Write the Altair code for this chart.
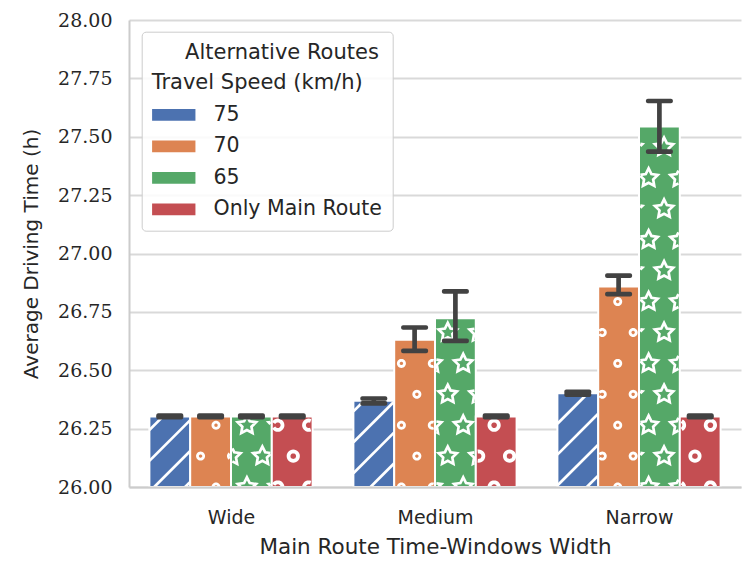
import math
import altair as alt
import pandas as pd

# ---------------- data ----------------
categories = ["Wide", "Medium", "Narrow"]
series = ["75", "70", "65", "Only Main Route"]
colors = ["#4C72B0", "#DD8452", "#55A868", "#C44E52"]

mean_75 = [26.302, 26.369, 26.401]
mean_70 = [26.302, 26.631, 26.859]
mean_65 = [26.302, 26.723, 27.544]
mean_main = [26.302, 26.302, 26.302]

lo_75 = [26.299, 26.358, 26.396]
hi_75 = [26.306, 26.379, 26.407]
lo_70 = [26.299, 26.583, 26.826]
hi_70 = [26.306, 26.683, 26.905]
lo_65 = [26.299, 26.626, 27.436]
hi_65 = [26.306, 26.838, 27.653]
lo_main = [26.299, 26.299, 26.299]
hi_main = [26.306, 26.306, 26.306]

y_ticks = [26.00, 26.25, 26.50, 26.75, 27.00, 27.25, 27.50, 27.75, 28.00]

# ---------------- layout / style constants ----------------
W, H = 612, 467
X_DOM = [-0.5, len(categories) - 0.5]
Y_DOM = [26.0, 28.0]
BAR_W = 0.8 / len(series)
PXX = W / (X_DOM[1] - X_DOM[0])
PXY = H / (Y_DOM[1] - Y_DOM[0])
PERIOD = 30.9                     # hatch period in px
DXG = PERIOD / PXX
DYG = PERIOD / PXY
XA0 = -0.0735                     # hatch grid phase (data units)
TEXT = "#262626"
SANS = "DejaVu Sans"
SERIF = "DejaVu Serif"

means = [mean_75, mean_70, mean_65, mean_main]
los = [lo_75, lo_70, lo_65, lo_main]
his = [hi_75, hi_70, hi_65, hi_main]

rows = []
for gi, cat in enumerate(categories):
    for si, s in enumerate(series):
        c = gi + (si - (len(series) - 1) / 2) * BAR_W
        rows.append(dict(category=cat, series=s, center=c,
                         left=c - BAR_W / 2, right=c + BAR_W / 2,
                         mean=means[si][gi], lo=los[si][gi], hi=his[si][gi],
                         base=Y_DOM[0]))
df = pd.DataFrame(rows)


# ---------------- hatch helpers ----------------
def clip_seg(p0, p1, xmin, xmax, ymin, ymax):
    x0, y0 = p0
    x1, y1 = p1
    dx, dy = x1 - x0, y1 - y0
    t0, t1 = 0.0, 1.0
    for p, q in ((-dx, x0 - xmin), (dx, xmax - x0), (-dy, y0 - ymin), (dy, ymax - y0)):
        if abs(p) < 1e-12:
            if q < 0:
                return None
        else:
            t = q / p
            if p < 0:
                if t > t1:
                    return None
                if t > t0:
                    t0 = t
            else:
                if t < t0:
                    return None
                if t < t1:
                    t1 = t
    if t1 - t0 < 1e-9:
        return None
    return (x0 + t0 * dx, y0 + t0 * dy), (x0 + t1 * dx, y0 + t1 * dy)


def close(a, b):
    return abs(a[0] - b[0]) < 1e-6 and abs(a[1] - b[1]) < 1e-6


def fmt(pts):
    return "M" + "L".join(f"{x:.2f},{y:.2f}" for x, y in pts)


def clipped_path(poly, rect):
    xmin, xmax, ymin, ymax = rect
    if xmin >= xmax or ymin >= ymax:
        return None
    if all(xmin <= x <= xmax and ymin <= y <= ymax for x, y in poly):
        return fmt(poly) + "Z"
    parts, cur = [], None
    n = len(poly)
    for i in range(n):
        seg = clip_seg(poly[i], poly[(i + 1) % n], xmin, xmax, ymin, ymax)
        if seg is None:
            if cur:
                parts.append(cur)
            cur = None
            continue
        a, b = seg
        if cur and close(cur[-1], a):
            cur.append(b)
        else:
            if cur:
                parts.append(cur)
            cur = [a, b]
    if cur:
        parts.append(cur)
    if len(parts) > 1 and close(parts[-1][-1], parts[0][0]):
        parts[0] = parts[-1] + parts[0][1:]
        parts.pop()
    if not parts:
        return None
    return "".join(fmt(p) for p in parts)


def ring(r, n=28):
    return [(r * math.cos(2 * math.pi * i / n), r * math.sin(2 * math.pi * i / n)) for i in range(n)]


def star(R, inner=0.5):
    pts = []
    for i in range(10):
        a = -math.pi / 2 + i * math.pi / 5
        rr = R if i % 2 == 0 else R * inner
        pts.append((rr * math.cos(a), rr * math.sin(a)))
    return pts


hatch_style = {
    "70": (ring(3.1), 3.1, 2.8),
    "65": (star(9.6), 9.6, 2.7),
    "Only Main Route": (ring(4.7), 4.7, 3.8),
}

pts_rows = []
line_rows = []
for r in rows:
    L, R, T = r["left"], r["right"], r["mean"]
    if r["series"] in hatch_style:
        poly, rad, sw = hatch_style[r["series"]]
        k = 0
        while Y_DOM[0] + k * DYG - rad / PXY <= T:
            y = Y_DOM[0] + k * DYG
            shift = 0.5 * (k % 2)
            jmin = math.floor((L - rad / PXX - XA0) / DXG - shift) - 1
            jmax = math.ceil((R + rad / PXX - XA0) / DXG - shift) + 1
            for j in range(jmin, jmax + 1):
                x = XA0 + (j + shift) * DXG
                rect = ((L - x) * PXX + sw / 2, (R - x) * PXX - sw / 2,
                        -(T - y) * PXY + sw / 2, (y - Y_DOM[0]) * PXY)
                p = clipped_path(poly, rect)
                if p:
                    pts_rows.append(dict(x=x, y=y, path=p, sw=sw))
            k += 1
    else:
        sw = 2.7
        Lp, Rp = (L - X_DOM[0]) * PXX, (R - X_DOM[0]) * PXX
        Tp = (T - Y_DOM[0]) * PXY - sw / 2
        c0 = (XA0 - X_DOM[0]) * PXX
        nmin = math.floor((Lp - Tp - c0) / PERIOD) - 1
        nmax = math.ceil((Rp - c0) / PERIOD) + 1
        for n in range(nmin, nmax + 1):
            c = c0 + n * PERIOD
            xa = max(Lp, c)
            xb = min(Rp, Tp + c)
            if xb - xa > 0.3:
                line_rows.append(dict(x=xa / PXX + X_DOM[0], y=(xa - c) / PXY + Y_DOM[0],
                                      x2=xb / PXX + X_DOM[0], y2=(xb - c) / PXY + Y_DOM[0]))

pts_df = pd.DataFrame(pts_rows)
lines_df = pd.DataFrame(line_rows)

# ---------------- chart ----------------
label_expr = "[" + ",".join("'" + c + "'" for c in categories) + "][datum.value]"

x_scale = alt.Scale(domain=X_DOM, nice=False, zero=False)
y_scale = alt.Scale(domain=Y_DOM, nice=False, zero=False)

x_enc = alt.X("left:Q", scale=x_scale,
              axis=alt.Axis(values=list(range(len(categories))), labelExpr=label_expr,
                            title="Main Route Time-Windows Width", grid=False, ticks=False,
                            domainColor="#cccccc", domainWidth=2, zindex=1,
                            labelFont=SANS, labelFontSize=19, labelColor=TEXT, labelPadding=21,
                            titleFont=SANS, titleFontSize=21.5, titleFontWeight="normal",
                            titleColor=TEXT, titlePadding=9))
y_enc = alt.Y("mean:Q", scale=y_scale,
              axis=alt.Axis(values=y_ticks, format=".2f", title="Average Driving Time (h)",
                            grid=True, gridColor="#d9d9d9", gridWidth=1.8, ticks=False,
                            domainColor="#cccccc", domainWidth=2,
                            labelFont=SERIF, labelFontSize=19, labelColor=TEXT, labelPadding=17,
                            titleFont=SANS, titleFontSize=20, titleFontWeight="normal",
                            titleColor=TEXT, titlePadding=16))

# legend swatch: 43 px wide, 12 px tall, drawn to the right of a 19.7 px symbol column
SYM_SIZE = 19.7 ** 2
sym_path = "M-1,-0.6L3.4,-0.6L3.4,0.6L-1,0.6Z"

bars = alt.Chart(df).mark_rect(stroke="white", strokeWidth=2).encode(
    x=x_enc,
    x2="right:Q",
    y=y_enc,
    y2="base:Q",
    color=alt.Color("series:N", scale=alt.Scale(domain=series, range=colors),
                    legend=alt.Legend(
                        title=["\u200b" + "\u00a0" * 5 + "Alternative Routes", "Travel Speed (km/h)"],
                        orient="none", legendX=12.7, legendY=11.7,
                        padding=10, fillColor="rgba(255,255,255,0.85)", strokeColor="#cccccc",
                        cornerRadius=4,
                        titleFont=SANS, titleFontSize=21, titleFontWeight="normal",
                        titleColor=TEXT, titleLineHeight=30, titlePadding=12,
                        titleAnchor="start", titleAlign="left", titleLimit=400,
                        labelFont=SANS, labelFontSize=20.5, labelColor=TEXT, labelLimit=400,
                        labelOffset=41.3, rowPadding=10.5,
                        symbolType=sym_path, symbolSize=SYM_SIZE,
                        symbolStrokeWidth=0, symbolOpacity=1)),
)

hatch_lines = alt.Chart(lines_df).mark_rule(color="white", strokeWidth=2.7, strokeCap="butt").encode(
    x=alt.X("x:Q", scale=x_scale), y=alt.Y("y:Q", scale=y_scale), x2="x2:Q", y2="y2:Q")

hatch_pts = alt.Chart(pts_df).mark_point(filled=False, opacity=1, size=4, strokeJoin="miter").encode(
    x=alt.X("x:Q", scale=x_scale), y=alt.Y("y:Q", scale=y_scale),
    shape=alt.Shape("path:N", scale=None, legend=None),
    strokeWidth=alt.StrokeWidth("sw:Q", scale=None, legend=None),
    color=alt.value("white"))

err = alt.Chart(df).mark_rule(color="#424242", strokeWidth=4.7).encode(
    x=alt.X("center:Q", scale=x_scale), y=alt.Y("lo:Q", scale=y_scale), y2="hi:Q")
cap_lo = alt.Chart(df).mark_tick(color="#424242", orient="horizontal", size=27,
                                 thickness=4.7, cornerRadius=2, opacity=1).encode(
    x=alt.X("center:Q", scale=x_scale), y=alt.Y("lo:Q", scale=y_scale))
cap_hi = alt.Chart(df).mark_tick(color="#424242", orient="horizontal", size=27,
                                 thickness=4.7, cornerRadius=2, opacity=1).encode(
    x=alt.X("center:Q", scale=x_scale), y=alt.Y("hi:Q", scale=y_scale))

chart = alt.layer(bars, hatch_lines, hatch_pts, err, cap_lo, cap_hi).properties(
    width=W, height=H,
    padding={"left": 129, "top": 20, "right": 8, "bottom": 76},
    autosize=alt.AutoSizeParams(type="none"),
    background="white",
).configure_view(stroke=None)

chart.save("out.html", embed_options={"renderer": "svg", "actions": False})
